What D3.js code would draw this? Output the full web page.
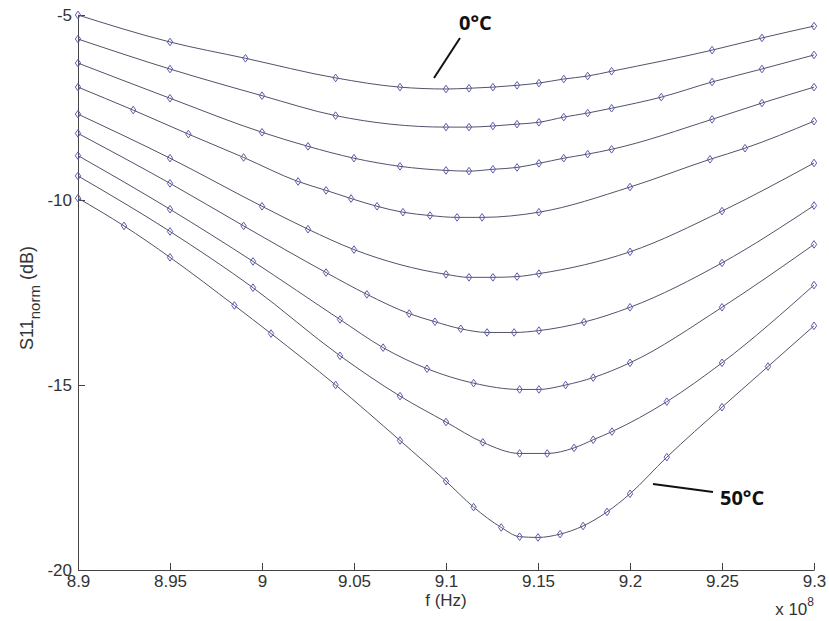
<html>
<head>
<meta charset="utf-8">
<style>
    body { margin: 0; background: #fff; }
    svg { display: block; }
    text { font-family: "Liberation Sans", Arial, sans-serif; fill: #333; }
    .tag { font-family: "Open Sans", "DejaVu Sans", sans-serif; font-weight: bold; fill: #111; }
</style>
</head>
<body>
<svg id="chart"></svg>
<script src="https://d3js.org/d3.v7.min.js"></script>
<script>
// frequency (x 10^8 Hz) and normalised S11 (dB), one pair per temperature, 0°C on top
var f1 = [8.9, 8.95, 8.991, 9.04, 9.075, 9.1, 9.1125, 9.1255, 9.1386, 9.1505, 9.164, 9.177, 9.19, 9.2446, 9.2717, 9.3];
var s1 = [-5.00, -5.73, -6.17, -6.70, -6.95, -7.00, -6.98, -6.95, -6.90, -6.84, -6.73, -6.65, -6.52, -5.95, -5.62, -5.30];

var f2 = [8.9, 8.95, 9.0, 9.04, 9.1, 9.1125, 9.1255, 9.1386, 9.1505, 9.164, 9.177, 9.19, 9.217, 9.2446, 9.2717, 9.3];
var s2 = [-5.65, -6.46, -7.18, -7.72, -8.03, -8.03, -8.00, -7.95, -7.90, -7.76, -7.65, -7.52, -7.22, -6.81, -6.46, -6.08];

var f3 = [8.9, 8.95, 9.0, 9.025, 9.05, 9.075, 9.1, 9.1125, 9.1255, 9.1386, 9.1505, 9.164, 9.177, 9.19, 9.2446, 9.2717, 9.3];
var s3 = [-6.30, -7.25, -8.17, -8.55, -8.87, -9.09, -9.20, -9.22, -9.17, -9.12, -9.01, -8.87, -8.76, -8.63, -7.82, -7.38, -6.95];

var f4 = [8.9, 8.93, 8.96, 8.99, 9.0196, 9.0348, 9.0484, 9.0625, 9.0766, 9.0913, 9.106, 9.1196, 9.1505, 9.2, 9.2435, 9.2625, 9.3];
var s4 = [-6.95, -7.57, -8.22, -8.85, -9.50, -9.74, -9.96, -10.17, -10.33, -10.42, -10.47, -10.47, -10.33, -9.65, -8.90, -8.60, -7.87];

var f5 = [8.9, 8.95, 9.0, 9.025, 9.05, 9.1, 9.1125, 9.1255, 9.1386, 9.1505, 9.2, 9.25, 9.3];
var s5 = [-7.68, -8.87, -10.17, -10.79, -11.34, -12.01, -12.09, -12.09, -12.07, -11.99, -11.40, -10.30, -9.00];

var f6 = [8.9, 8.95, 8.99, 9.0348, 9.057, 9.08, 9.094, 9.108, 9.1223, 9.137, 9.1505, 9.175, 9.2, 9.25, 9.3];
var s6 = [-8.20, -9.55, -10.70, -11.96, -12.55, -13.07, -13.29, -13.48, -13.58, -13.58, -13.53, -13.30, -12.90, -11.70, -10.15];

var f7 = [8.9, 8.95, 8.9951, 9.0424, 9.0658, 9.0897, 9.115, 9.14, 9.1505, 9.165, 9.18, 9.2, 9.25, 9.3];
var s7 = [-8.80, -10.25, -11.66, -13.23, -13.99, -14.56, -14.95, -15.12, -15.12, -15.00, -14.80, -14.40, -12.90, -11.20];

var f8 = [8.9, 8.95, 8.9951, 9.0424, 9.075, 9.1, 9.12, 9.14, 9.155, 9.1696, 9.18, 9.1902, 9.22, 9.25, 9.3];
var s8 = [-9.35, -10.85, -12.37, -14.21, -15.30, -16.00, -16.55, -16.85, -16.85, -16.70, -16.48, -16.26, -15.45, -14.40, -12.30];

var f9 = [8.9, 8.925, 8.95, 8.985, 9.0049, 9.04, 9.075, 9.1, 9.115, 9.13, 9.14, 9.15, 9.162, 9.1745, 9.1875, 9.2, 9.22, 9.25, 9.275, 9.3];
var s9 = [-9.95, -10.70, -11.55, -12.85, -13.61, -15.00, -16.50, -17.60, -18.30, -18.85, -19.10, -19.12, -19.03, -18.81, -18.43, -17.94, -16.95, -15.60, -14.50, -13.40];

var xTicks = [8.9, 8.95, 9, 9.05, 9.1, 9.15, 9.2, 9.25, 9.3];
var yTicks = [-20, -15, -10, -5];

var width = 829, height = 621;

var series = [[f1, s1], [f2, s2], [f3, s3], [f4, s4], [f5, s5], [f6, s6], [f7, s7], [f8, s8], [f9, s9]]
    .map(function (p) {
        return p[0].map(function (f, i) { return { f: f, v: p[1][i] }; });
    });

var svg = d3.select("#chart").attr("width", width).attr("height", height);

var x = d3.scaleLinear().domain([8.9, 9.3]).range([78, 814]);
var y = d3.scaleLinear().domain([-20, -5]).range([570, 15]);

// axes, MATLAB style: ticks point inwards, no box
var xAxis = svg.append("g")
    .attr("transform", "translate(0," + y(-20) + ")")
    .call(d3.axisBottom(x).tickValues(xTicks)
        .tickFormat(function (d) { return String(+d.toFixed(2)); })
        .tickSizeInner(-7).tickSizeOuter(0).tickPadding(5));

var yAxis = svg.append("g")
    .attr("transform", "translate(" + x(8.9) + ",0)")
    .call(d3.axisLeft(y).tickValues(yTicks)
        .tickFormat(function (d) { return String(d); })
        .tickSizeInner(-7).tickSizeOuter(0).tickPadding(6));

[xAxis, yAxis].forEach(function (g) {
    g.selectAll("path, line").attr("stroke", "#444").attr("stroke-width", 1);
    g.selectAll("text").attr("font-size", 17).attr("fill", "#333")
        .attr("font-family", "Liberation Sans, Arial, sans-serif");
});

var line = d3.line()
    .curve(d3.curveMonotoneX)
    .x(function (d) { return x(d.f); })
    .y(function (d) { return y(d.v); });

var plot = svg.append("g");

plot.selectAll("path.curve")
    .data(series)
    .enter().append("path")
    .attr("class", "curve")
    .attr("d", line)
    .attr("fill", "none")
    .attr("stroke", "#52526a")
    .attr("stroke-width", 1);

var diamond = "M0,-3.8L2.7,0L0,3.8L-2.7,0Z";

plot.selectAll("g.marks")
    .data(series)
    .enter().append("g")
    .attr("class", "marks")
    .selectAll("path")
    .data(function (d) { return d; })
    .enter().append("path")
    .attr("d", diamond)
    .attr("transform", function (d) { return "translate(" + x(d.f) + "," + y(d.v) + ")"; })
    .attr("fill", "none")
    .attr("stroke", "#5c5cb0")
    .attr("stroke-width", 1);

// axis labels
svg.append("text")
    .attr("x", (x(8.9) + x(9.3)) / 2)
    .attr("y", 606)
    .attr("text-anchor", "middle")
    .attr("font-size", 17)
    .text("f (Hz)");

var exp = svg.append("text")
    .attr("x", 814)
    .attr("y", 615)
    .attr("text-anchor", "end")
    .attr("font-size", 17);
exp.append("tspan").text("x 10");
exp.append("tspan").attr("font-size", 12).attr("dy", -9).text("8");

var ylab = svg.append("text")
    .attr("transform", "translate(33,350) rotate(-90)")
    .attr("font-size", 18);
ylab.append("tspan").text("S11");
ylab.append("tspan").attr("font-size", 15).attr("dy", 7).text("norm");
ylab.append("tspan").attr("dy", -7).text(" (dB)");

// temperature callouts
svg.append("line")
    .attr("x1", 460).attr("y1", 38).attr("x2", 434).attr("y2", 78)
    .attr("stroke", "#111").attr("stroke-width", 2);
svg.append("text").attr("class", "tag")
    .attr("x", 459).attr("y", 30).attr("font-size", 20)
    .text("0°C");

svg.append("line")
    .attr("x1", 653).attr("y1", 484).attr("x2", 713).attr("y2", 492)
    .attr("stroke", "#111").attr("stroke-width", 2);
svg.append("text").attr("class", "tag")
    .attr("x", 720).attr("y", 505).attr("font-size", 20)
    .text("50°C");
</script>
</body>
</html>
